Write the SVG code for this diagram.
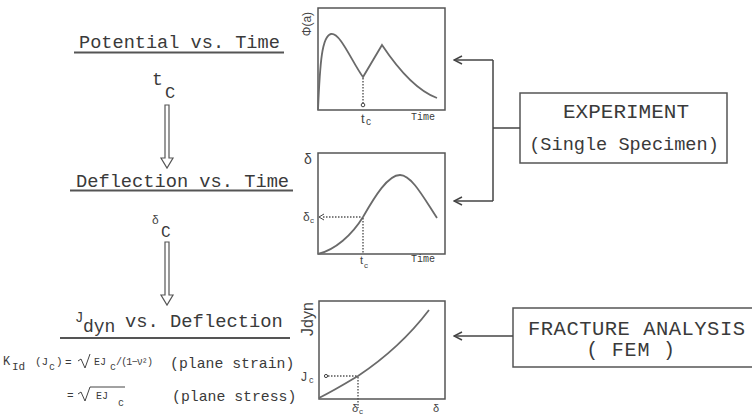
<svg xmlns="http://www.w3.org/2000/svg" width="752" height="415" viewBox="0 0 752 415">
<defs>
<style>
.t{font-family:"Liberation Mono",monospace;fill:#3a3a3a}
.s{font-family:"Liberation Sans",sans-serif;fill:#444}
.box{fill:none;stroke:#555;stroke-width:1.5}
.curve{fill:none;stroke:#6a6a6a;stroke-width:1.8}
.dot{fill:none;stroke:#555;stroke-width:1.4;stroke-dasharray:1.5 1.5}
.ul{stroke:#555;stroke-width:2}
.conn{fill:none;stroke:#444;stroke-width:1.5}
.harrow{fill:#fff;stroke:#555;stroke-width:1.2}
.rad{fill:none;stroke:#444;stroke-width:1}
</style>
<marker id="oa" viewBox="0 0 10 10" refX="9" refY="5" markerWidth="10" markerHeight="10" markerUnits="userSpaceOnUse" orient="auto">
<path d="M1,1 L9,5 L1,9" fill="none" stroke="#444" stroke-width="1.5"/>
</marker>
</defs>

<g id="potential-label">
<text class="t" x="79" y="48" font-size="18.6">Potential vs. Time</text>
<line class="ul" x1="74" y1="52.5" x2="284" y2="52.5"/>
</g>
<g id="tc-label">
<text class="t" x="152" y="85" font-size="18">t</text>
<text class="t" x="165" y="98" font-size="17">C</text>
</g>
<g id="deflection-label">
<text class="t" x="76" y="187" font-size="18.7">Deflection vs. Time</text>
<line class="ul" x1="70" y1="190.5" x2="293" y2="190.5"/>
</g>
<g id="dc-label">
<text class="s" x="152" y="224" font-size="12">δ</text>
<text class="t" x="161" y="237" font-size="16">C</text>
</g>
<g id="jdyn-label">
<text class="t" x="75" y="322" font-size="14">J</text>
<text class="t" x="83" y="332" font-size="18">dyn</text>
<text class="t" x="125" y="327" font-size="18.8">vs. Deflection</text>
<line class="ul" x1="60" y1="338" x2="290" y2="338"/>
</g>
<g id="formula">
<text class="t" x="3" y="365" font-size="12">K</text>
<text class="t" x="12" y="370" font-size="11">Id</text>
<text class="t" x="35" y="365" font-size="11">(J</text>
<text class="t" x="49" y="370" font-size="10">c</text>
<text class="t" x="56" y="365" font-size="11">)</text>
<text class="t" x="65" y="366" font-size="11">=</text>
<path class="rad" d="M78,361 L81,359 L85,368 L90,354"/>
<text class="t" x="94" y="365" font-size="10">EJ</text>
<text class="t" x="110" y="370" font-size="10">c</text>
<text class="t" x="116" y="365" font-size="10" textLength="37">/(1−ν²)</text>
<text class="t" x="170" y="368" font-size="14.8">(plane strain)</text>
<text class="t" x="67" y="399" font-size="11">=</text>
<path class="rad" d="M78,394 L81,392 L85,401 L90,387 L125,387"/>
<text class="t" x="96" y="399" font-size="10">EJ</text>
<text class="t" x="118" y="406" font-size="10">c</text>
<text class="t" x="172" y="401" font-size="14.8">(plane stress)</text>
</g>

<g id="plot-potential">
<rect class="box" x="318" y="8" width="127" height="102"/>
<path class="curve" d="M318,110 C320,62 322,36 331,34 C340,32 352,62 363,77 L382,45 C396,66 415,90 437,98"/>
<line class="dot" x1="363" y1="78" x2="363" y2="104"/>
<circle cx="363" cy="105" r="1.8" fill="#fff" stroke="#444" stroke-width="1"/>
<text class="s" font-size="12" transform="translate(311,24) rotate(-90)" text-anchor="middle">Φ(a)</text>
<text class="s" x="361" y="123" font-size="13">t</text>
<text class="s" x="366" y="125" font-size="10">c</text>
<text class="t" x="411" y="120" font-size="10">Time</text>
</g>

<g id="plot-deflection">
<rect class="box" x="318" y="153" width="127" height="101"/>
<path class="curve" d="M318,254 C335,250 352,235 363,217 C375,196 388,175 400,175 C412,175 425,200 437,218"/>
<line class="dot" x1="323" y1="217" x2="362" y2="217"/>
<path d="M324,214 L319,217 L324,220" fill="none" stroke="#444" stroke-width="1"/>
<line class="dot" x1="363" y1="218" x2="363" y2="254"/>
<text class="s" x="304" y="164" font-size="14">δ</text>
<text class="s" x="303" y="221" font-size="12">δ</text>
<text class="s" x="310" y="223" font-size="8">c</text>
<text class="s" x="360" y="264" font-size="11">t</text>
<text class="s" x="364" y="268" font-size="8">c</text>
<text class="t" x="411" y="262" font-size="10">Time</text>
</g>

<g id="plot-jdyn">
<rect class="box" x="319" y="301" width="126" height="98"/>
<path class="curve" d="M319,398 C335,390 348,382 358,376 C385,358 410,335 429,310"/>
<line class="dot" x1="328" y1="376" x2="357" y2="376"/>
<circle cx="326" cy="376" r="1.6" fill="#fff" stroke="#444" stroke-width="1"/>
<line class="dot" x1="358" y1="377" x2="358" y2="408"/>
<text class="s" font-size="16" transform="translate(313,319) rotate(-90)" text-anchor="middle">Jdyn</text>
<text class="s" x="301" y="381" font-size="12">J</text>
<text class="s" x="309" y="383" font-size="9">c</text>
<text class="s" x="352" y="412" font-size="11">δ</text>
<text class="s" x="359" y="414" font-size="8">c</text>
<text class="s" x="433" y="412" font-size="11">δ</text>
</g>

<g id="experiment">
<rect class="box" x="520" y="93" width="207" height="70"/>
<text class="t" x="626" y="118" font-size="21" text-anchor="middle">EXPERIMENT</text>
<text class="t" x="624" y="150" font-size="18.6" text-anchor="middle">(Single Specimen)</text>
</g>

<g id="fracture-analysis">
<rect class="box" x="513" y="308" width="260" height="59"/>
<text class="t" x="528" y="335" font-size="20.5" textLength="217">FRACTURE ANALYSIS</text>
<text class="t" x="631" y="356" font-size="20" text-anchor="middle" letter-spacing="0.8">( FEM )</text>
</g>

<g id="connectors">
<path class="harrow" d="M165,105 L165,158 L161,158 L167,168 L173,158 L169,158 L169,105 Z"/>
<path class="harrow" d="M165,242 L165,295 L161,295 L167,305 L173,295 L169,295 L169,242 Z"/>
<line class="conn" x1="520" y1="128" x2="493" y2="128"/>
<path class="conn" d="M493,60 L493,201"/>
<line class="conn" x1="493" y1="60" x2="454" y2="60" marker-end="url(#oa)"/>
<line class="conn" x1="493" y1="201" x2="454" y2="201" marker-end="url(#oa)"/>
<line class="conn" x1="513" y1="336" x2="454" y2="336" marker-end="url(#oa)"/>
</g>
</svg>
